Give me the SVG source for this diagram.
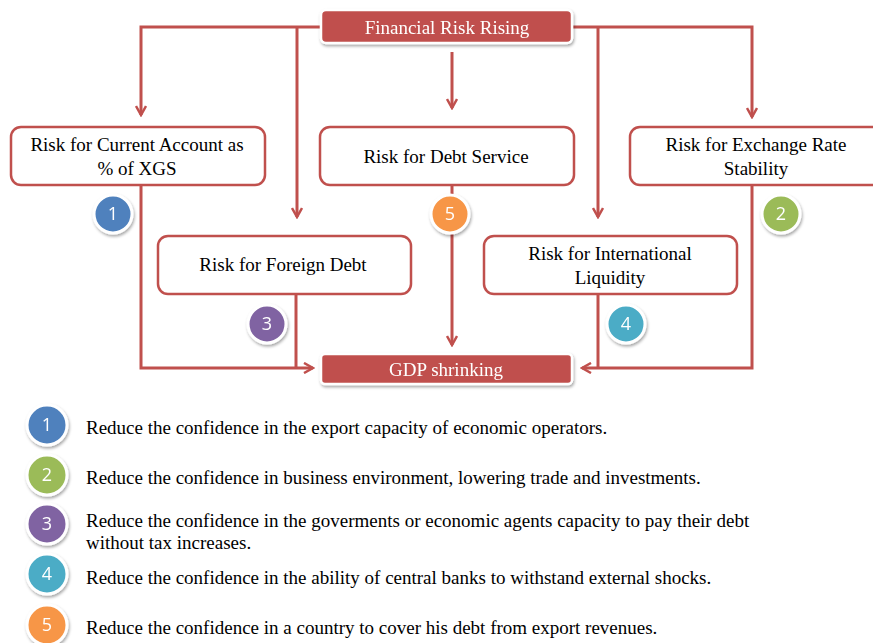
<svg xmlns="http://www.w3.org/2000/svg" width="873" height="643" viewBox="0 0 873 643">
<defs>
<style>
.bx{fill:#fff;stroke:#C0504D;stroke-width:2.5}
.hd{fill:#C0504D;stroke:#fff;stroke-width:2.5}
.t{font-family:"Liberation Serif","Times New Roman",serif;font-size:19px;fill:#000;text-anchor:middle}
.th{font-family:"Liberation Serif","Times New Roman",serif;font-size:19px;fill:#fff;text-anchor:middle}
.lg{font-family:"Liberation Serif","Times New Roman",serif;font-size:19px;fill:#000}
.c{stroke:#C0504D;stroke-width:3;fill:none}
.n{font-family:"Open Sans","Liberation Sans",sans-serif;font-size:18px;fill:#fff;text-anchor:middle}
.cc{stroke:#fff;stroke-width:3}
</style>
<marker id="ar" viewBox="0 0 12 12" refX="10" refY="6" markerWidth="12" markerHeight="12" markerUnits="userSpaceOnUse" orient="auto">
<path d="M1,1 L10,6 L1,11" fill="none" stroke="#C0504D" stroke-width="2.5"/>
</marker>
<filter id="sh" x="-20%" y="-20%" width="140%" height="150%">
<feDropShadow dx="1" dy="2" stdDeviation="1.5" flood-color="#000" flood-opacity="0.35"/>
</filter>
</defs>
<g id="connectors">
<path class="c" d="M322,27 H141 V115" marker-end="url(#ar)"/>
<path class="c" d="M297,27 V217" marker-end="url(#ar)"/>
<path class="c" d="M572,27 H752 V117" marker-end="url(#ar)"/>
<path class="c" d="M598,27 V217" marker-end="url(#ar)"/>
<path class="c" d="M452,52 V108" marker-end="url(#ar)"/>
<path class="c" d="M141,185 V368 H313" marker-end="url(#ar)"/>
<path class="c" d="M296,294 V368"/>
<path class="c" d="M452,185 V345" marker-end="url(#ar)"/>
<path class="c" d="M752,185 V368 H582" marker-end="url(#ar)"/>
<path class="c" d="M598,294 V368"/>
</g>
<g id="top" filter="url(#sh)">
<rect class="hd" x="321" y="10" width="251" height="33" rx="5"/>
<text class="th" x="447" y="34">Financial Risk Rising</text>
</g>
<g id="current">
<rect class="bx" x="11" y="127" width="254" height="58" rx="10"/>
<text class="t" x="137" y="151">Risk for Current Account as</text>
<text class="t" x="137" y="175">% of XGS</text>
</g>
<g id="debtservice">
<rect class="bx" x="320" y="127" width="254" height="58" rx="10"/>
<text class="t" x="446" y="163">Risk for Debt Service</text>
</g>
<g id="exchange">
<rect class="bx" x="630" y="127" width="254" height="58" rx="10"/>
<text class="t" x="756" y="151">Risk for Exchange Rate</text>
<text class="t" x="756" y="175">Stability</text>
</g>
<g id="foreign">
<rect class="bx" x="158" y="236" width="253" height="58" rx="10"/>
<text class="t" x="283" y="271">Risk for Foreign Debt</text>
</g>
<g id="liquidity">
<rect class="bx" x="484" y="236" width="253" height="58" rx="10"/>
<text class="t" x="610" y="260">Risk for International</text>
<text class="t" x="610" y="284">Liquidity</text>
</g>
<g id="gdp" filter="url(#sh)">
<rect class="hd" x="321" y="354" width="251" height="30" rx="4"/>
<text class="th" x="446" y="376">GDP shrinking</text>
</g>
<g id="b1" filter="url(#sh)"><circle class="cc" cx="113" cy="214" r="19" fill="#4F81BD"/><text class="n" x="113" y="220">1</text></g>
<g id="b5" filter="url(#sh)"><circle class="cc" cx="450" cy="214" r="19" fill="#F79646"/><text class="n" x="450" y="220">5</text></g>
<g id="b2" filter="url(#sh)"><circle class="cc" cx="781" cy="214" r="19" fill="#9BBB59"/><text class="n" x="781" y="220">2</text></g>
<g id="b3" filter="url(#sh)"><circle class="cc" cx="267" cy="324" r="19" fill="#8064A2"/><text class="n" x="267" y="330">3</text></g>
<g id="b4" filter="url(#sh)"><circle class="cc" cx="626" cy="324" r="19" fill="#4BACC6"/><text class="n" x="626" y="330">4</text></g>
<g id="legend">
<g filter="url(#sh)">
<circle class="cc" cx="47" cy="425" r="20" fill="#4F81BD"/><text class="n" x="47" y="431">1</text>
<circle class="cc" cx="47" cy="475" r="20" fill="#9BBB59"/><text class="n" x="47" y="481">2</text>
<circle class="cc" cx="47" cy="524" r="20" fill="#8064A2"/><text class="n" x="47" y="530">3</text>
<circle class="cc" cx="47" cy="574" r="20" fill="#4BACC6"/><text class="n" x="47" y="580">4</text>
<circle class="cc" cx="47" cy="625" r="20" fill="#F79646"/><text class="n" x="47" y="631">5</text>
</g>
<text class="lg" x="86" y="434">Reduce the confidence in the export capacity of economic operators.</text>
<text class="lg" x="86" y="484">Reduce the confidence in business environment, lowering trade and investments.</text>
<text class="lg" x="86" y="527">Reduce the confidence in the goverments or economic agents capacity to pay their debt</text>
<text class="lg" x="86" y="549">without tax increases.</text>
<text class="lg" x="86" y="584">Reduce the confidence in the ability of central banks to withstand external shocks.</text>
<text class="lg" x="86" y="634">Reduce the confidence in a country to cover his debt from export revenues.</text>
</g>
</svg>
